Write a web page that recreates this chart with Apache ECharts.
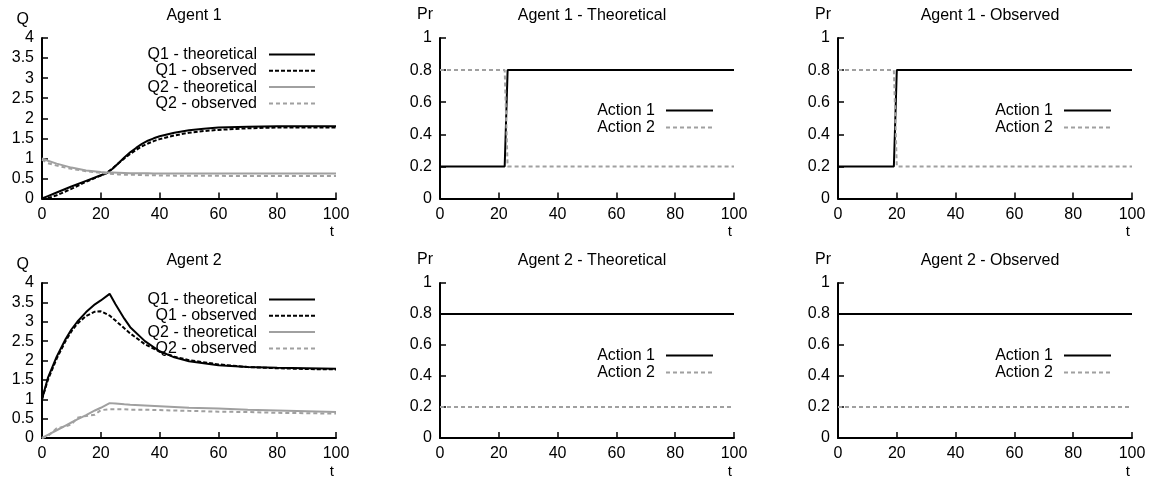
<!DOCTYPE html>
<html>
<head>
<meta charset="utf-8">
<script src="https://cdn.jsdelivr.net/npm/echarts@6/dist/echarts.min.js"></script>
<style>html,body{margin:0;padding:0;background:#fff}#c{width:1151px;height:479px}</style>
</head>
<body>
<div id="c"></div>
<script>
// ---------- data ----------
const xTicks = [0, 20, 40, 60, 80, 100];
const qTicks = [0, 0.5, 1, 1.5, 2, 2.5, 3, 3.5, 4];
const prTicks = [0, 0.2, 0.4, 0.6, 0.8, 1];

// Agent 1 Q-values
const tA1 = [0, 2, 5, 10, 15, 20, 22, 24, 26, 28, 30, 32, 34, 36, 38, 40, 45, 50, 55, 60, 70, 80, 90, 100];
const a1Q1Theo = [0, 0.06, 0.15, 0.3, 0.44, 0.58, 0.63, 0.74, 0.88, 1.02, 1.15, 1.26, 1.36, 1.44, 1.5, 1.55, 1.64, 1.7, 1.74, 1.77, 1.79, 1.8, 1.8, 1.8];
const a1Q1Obs  = [0, 0.01, 0.08, 0.24, 0.42, 0.57, 0.64, 0.75, 0.88, 1.0, 1.11, 1.21, 1.3, 1.37, 1.43, 1.48, 1.57, 1.64, 1.68, 1.71, 1.75, 1.77, 1.77, 1.77];
const a1Q2Theo = [1.0, 0.94, 0.87, 0.77, 0.7, 0.66, 0.65, 0.645, 0.64, 0.635, 0.63, 0.63, 0.63, 0.63, 0.625, 0.625, 0.625, 0.62, 0.62, 0.62, 0.62, 0.62, 0.62, 0.62];
const a1Q2Obs  = [0.97, 0.88, 0.82, 0.74, 0.68, 0.64, 0.62, 0.61, 0.6, 0.595, 0.59, 0.59, 0.585, 0.58, 0.58, 0.575, 0.57, 0.57, 0.565, 0.565, 0.56, 0.56, 0.56, 0.56];

// Agent 2 Q-values
const tA2 = [0, 2, 5, 8, 10, 12, 15, 18, 20, 23, 25, 28, 30, 35, 40, 45, 50, 60, 70, 80, 90, 100];
const a2Q1Theo = [1.0, 1.55, 2.1, 2.55, 2.8, 3.0, 3.25, 3.45, 3.55, 3.72, 3.45, 3.08, 2.86, 2.5, 2.24, 2.08, 1.98, 1.88, 1.83, 1.81, 1.8, 1.79];
const a2Q1Obs  = [1.0, 1.5, 2.05, 2.5, 2.75, 2.95, 3.15, 3.26, 3.27, 3.16, 3.03, 2.83, 2.7, 2.42, 2.23, 2.1, 2.01, 1.9, 1.83, 1.8, 1.78, 1.77];
const a2Q2Theo = [0, 0.08, 0.2, 0.32, 0.4, 0.48, 0.59, 0.71, 0.78, 0.9, 0.89, 0.87, 0.86, 0.84, 0.82, 0.8, 0.78, 0.76, 0.73, 0.71, 0.69, 0.67];
const a2Q2Obs  = [0, 0.05, 0.25, 0.3, 0.35, 0.52, 0.57, 0.6, 0.72, 0.74, 0.74, 0.74, 0.73, 0.73, 0.72, 0.71, 0.7, 0.68, 0.67, 0.65, 0.64, 0.63];

// Action probabilities
const tPrA1Theo = [0, 22, 23, 100];
const a1TheoAct1 = [0.2, 0.2, 0.8, 0.8];
const a1TheoAct2 = [0.8, 0.8, 0.2, 0.2];
const tPrA1Obs = [0, 19, 20, 100];
const a1ObsAct1 = [0.2, 0.2, 0.8, 0.8];
const a1ObsAct2 = [0.8, 0.8, 0.2, 0.2];
const tPrA2 = [0, 100];
const a2TheoAct1 = [0.8, 0.8];
const a2TheoAct2 = [0.2, 0.2];
const a2ObsAct1 = [0.8, 0.8];
const a2ObsAct2 = [0.2, 0.2];

const titles = ['Agent 1', 'Agent 1 - Theoretical', 'Agent 1 - Observed', 'Agent 2', 'Agent 2 - Theoretical', 'Agent 2 - Observed'];
const qNames = ['Q1 - theoretical', 'Q1 - observed', 'Q2 - theoretical', 'Q2 - observed'];
const prNames = ['Action 1', 'Action 2'];

// ---------- layout ----------
const FONT = 'Liberation Sans, Arial, Helvetica, sans-serif';
const GRAY = '#a0a0a0';
const lefts = [42, 440, 838];
const tops = [38, 283];
const W = 294, H = 160.5;

const grids = [], xAxes = [], yAxes = [], series = [], titleOpts = [], legends = [];
const zip = (t, v) => t.map((x, i) => [x, v[i]]);

const styles = [
  {color: '#000', type: 'solid'},
  {color: '#000', type: [4, 2]},
  {color: GRAY, type: 'solid'},
  {color: GRAY, type: [4, 3]}
];

for (let r = 0; r < 2; r++) {
  for (let c = 0; c < 3; c++) {
    const i = r * 3 + c;
    const isQ = c === 0;
    grids.push({left: lefts[c], top: tops[r], width: W, height: H});
    xAxes.push({
      type: 'value', gridIndex: i, min: 0, max: 100, interval: 20,
      name: 't', nameLocation: 'end', nameGap: 0,
      nameTextStyle: {fontFamily: FONT, fontSize: 15, color: '#000', align: 'right', verticalAlign: 'top', padding: [26, 2, 0, 0]},
      axisLine: {lineStyle: {color: '#000', width: 2}},
      axisTick: {inside: true, length: 6, lineStyle: {color: '#000', width: 1.5}},
      axisLabel: {fontFamily: FONT, fontSize: 16, color: '#000', margin: 8,
        customValues: xTicks},
      splitLine: {show: false}
    });
    yAxes.push({
      type: 'value', gridIndex: i, min: 0, max: isQ ? 4 : 1, interval: isQ ? 0.5 : 0.2,
      name: isQ ? 'Q' : 'Pr', nameLocation: 'end', nameGap: isQ ? 10 : 15,
      nameTextStyle: {fontFamily: FONT, fontSize: 16, color: '#000', align: 'right', padding: [0, isQ ? 13 : 7, 0, 0]},
      axisLine: {show: true, lineStyle: {color: '#000', width: 2}},
      axisTick: {show: true, inside: true, length: 6, lineStyle: {color: '#000', width: 1.5}},
      axisLabel: {fontFamily: FONT, fontSize: 16, color: '#000', margin: 8,
        customValues: isQ ? qTicks : prTicks,
        formatter: v => String(+(+v).toFixed(2))},
      splitLine: {show: false}
    });
    titleOpts.push({
      text: titles[i], left: lefts[c] + W / 2, top: tops[r] - 35, textAlign: 'center',
      textStyle: {fontFamily: FONT, fontSize: 16, fontWeight: 'normal', color: '#000'}
    });
    const common = {
      orient: 'vertical', align: 'right', padding: 0, selectedMode: false,
      itemStyle: {opacity: 0, borderWidth: 0}
    };
    if (isQ) {
      legends.push(Object.assign({}, common, {
        data: qNames, right: 1151 - 316, top: tops[r] + 8.5,
        itemGap: 0.3, itemWidth: 46, itemHeight: 16,
        textStyle: {fontFamily: FONT, fontSize: 16, color: '#000', lineHeight: 16, padding: [0, 7, 0, 0]}
      }));
    } else {
      legends.push(Object.assign({}, common, {
        data: prNames, right: 1151 - (lefts[c] + 274), top: tops[r] + 64,
        itemGap: 0, itemWidth: 47, itemHeight: 17,
        textStyle: {fontFamily: FONT, fontSize: 16, color: '#000', lineHeight: 17, padding: [0, 6, 0, 0]}
      }));
    }
  }
}

function addLine(idx, name, t, v, st) {
  series.push({
    type: 'line', name: name, xAxisIndex: idx, yAxisIndex: idx,
    data: zip(t, v), symbol: 'none', showSymbol: false, animation: false,
    lineStyle: {color: st.color, type: st.type, width: 2},
    itemStyle: {color: st.color}
  });
}

// Agent 1 Q
addLine(0, qNames[0], tA1, a1Q1Theo, styles[0]);
addLine(0, qNames[1], tA1, a1Q1Obs, styles[1]);
addLine(0, qNames[2], tA1, a1Q2Theo, styles[2]);
addLine(0, qNames[3], tA1, a1Q2Obs, styles[3]);
// Agent 2 Q
addLine(3, qNames[0], tA2, a2Q1Theo, styles[0]);
addLine(3, qNames[1], tA2, a2Q1Obs, styles[1]);
addLine(3, qNames[2], tA2, a2Q2Theo, styles[2]);
addLine(3, qNames[3], tA2, a2Q2Obs, styles[3]);
// Pr
addLine(1, prNames[0], tPrA1Theo, a1TheoAct1, styles[0]);
addLine(1, prNames[1], tPrA1Theo, a1TheoAct2, styles[3]);
addLine(2, prNames[0], tPrA1Obs, a1ObsAct1, styles[0]);
addLine(2, prNames[1], tPrA1Obs, a1ObsAct2, styles[3]);
addLine(4, prNames[0], tPrA2, a2TheoAct1, styles[0]);
addLine(4, prNames[1], tPrA2, a2TheoAct2, styles[3]);
addLine(5, prNames[0], tPrA2, a2ObsAct1, styles[0]);
addLine(5, prNames[1], tPrA2, a2ObsAct2, styles[3]);

const chart = echarts.init(document.getElementById('c'), null, {renderer: 'canvas'});
chart.setOption({
  animation: false,
  backgroundColor: '#fff',
  title: titleOpts,
  legend: legends,
  grid: grids,
  xAxis: xAxes,
  yAxis: yAxes,
  series: series
});
</script>
</body>
</html>
